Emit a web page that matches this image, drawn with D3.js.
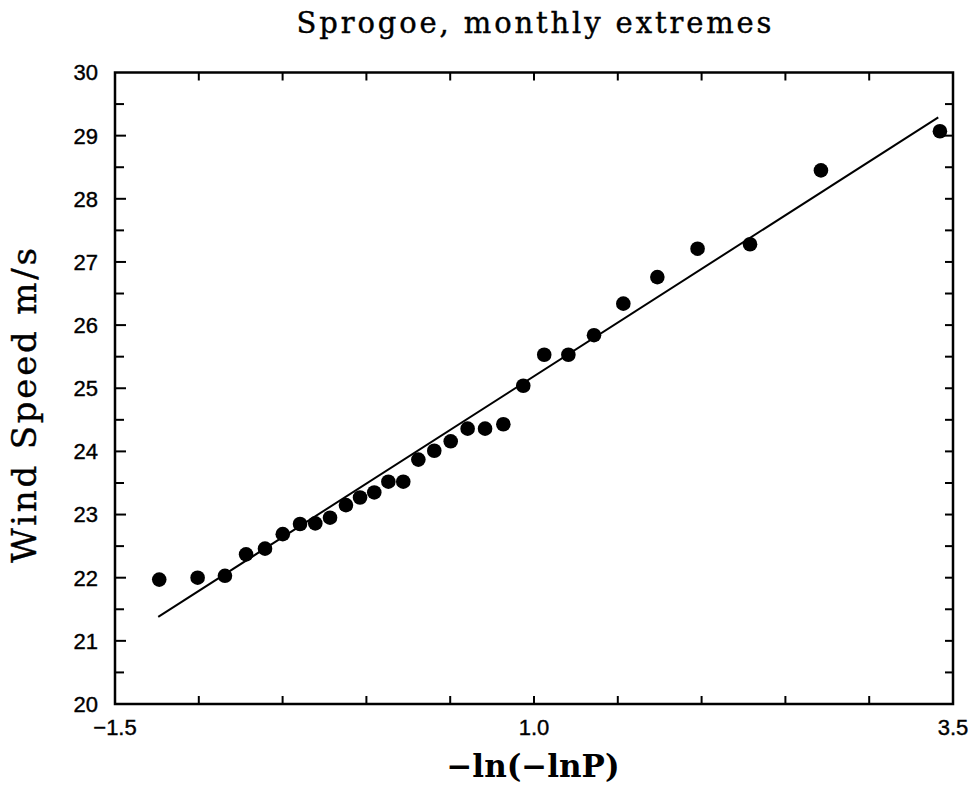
<html>
  <head>
    <meta charset="utf-8" />
    <script src="https://cdn.jsdelivr.net/npm/d3@7"></script>
    <style>
      body { margin: 0; background: #fff; }
    </style>
  </head>
  <body>
    <div id="container"></div>
    <script>
      // reduced variate -ln(-lnP) and observed monthly max wind speed
      const variate = [-1.236, -1.007, -0.844, -0.718, -0.605, -0.499, -0.396, -0.305, -0.217, -0.122,
        -0.038, 0.047, 0.131, 0.220, 0.310, 0.405, 0.503, 0.604, 0.708, 0.817,
        0.936, 1.061, 1.205, 1.358, 1.533, 1.736, 1.976, 2.289, 2.712, 3.422];
      const speed = [21.97, 22.00, 22.03, 22.37, 22.46, 22.69, 22.85, 22.86, 22.95, 23.15,
        23.27, 23.35, 23.52, 23.52, 23.87, 24.01, 24.16, 24.36, 24.36, 24.43,
        25.04, 25.53, 25.53, 25.84, 26.34, 26.76, 27.21, 27.28, 28.45, 29.07];
      // fitted Gumbel line end points
      const fitX = [-1.242, 3.412];
      const fitY = [21.38, 29.29];
      const xLabels = [-1.5, 1.0, 3.5];
      const yLabels = [20, 21, 22, 23, 24, 25, 26, 27, 28, 29, 30];

      const W = 975, H = 793;
      const mLeft = 115, mRight = 953, mTop = 72.5, mBottom = 704;

      const svg = d3.select("#container").append("svg")
        .attr("width", W).attr("height", H);

      const x = d3.scaleLinear().domain([-1.5, 3.5]).range([mLeft, mRight]);
      const y = d3.scaleLinear().domain([20, 30]).range([mBottom, mTop]);

      const halfSteps = d3.range(0, 21).map(i => i * 0.5);
      const xTicks = halfSteps.slice(0, 11).map(d => -1.5 + d);
      const yTicks = halfSteps.map(d => 20 + d);

      // ticks pointing inward
      const g = svg.append("g").attr("stroke", "#000").attr("stroke-width", 2);
      g.append("g").selectAll("line").data(xTicks.slice(1, -1)).join("line")
        .attr("x1", d => x(d)).attr("x2", d => x(d))
        .attr("y1", mBottom).attr("y2", mBottom - 8);
      g.append("g").selectAll("line").data(xTicks.slice(1, -1)).join("line")
        .attr("x1", d => x(d)).attr("x2", d => x(d))
        .attr("y1", mTop).attr("y2", mTop + 8);
      g.append("g").selectAll("line").data(yTicks.slice(1, -1)).join("line")
        .attr("x1", mLeft).attr("x2", d => mLeft + (d % 1 === 0 ? 11 : 9))
        .attr("y1", d => y(d)).attr("y2", d => y(d));
      g.append("g").selectAll("line").data(yTicks.slice(1, -1)).join("line")
        .attr("x1", mRight).attr("x2", mRight - 8)
        .attr("y1", d => y(d)).attr("y2", d => y(d));

      svg.append("rect")
        .attr("x", mLeft).attr("y", mTop)
        .attr("width", mRight - mLeft).attr("height", mBottom - mTop)
        .attr("fill", "none").attr("stroke", "#000").attr("stroke-width", 2.5);

      // tick labels
      const tickFont = "22px 'Liberation Sans', Arial, sans-serif";
      svg.append("g").selectAll("text").data(yLabels).join("text")
        .attr("x", 98).attr("y", d => y(d)).attr("dy", "0.36em")
        .attr("text-anchor", "end")
        .attr("stroke", "#000").attr("stroke-width", 0.4)
        .style("font", tickFont)
        .text(d => d);
      svg.append("g").selectAll("text").data(xLabels).join("text")
        .attr("x", d => x(d)).attr("y", 735)
        .attr("text-anchor", "middle")
        .attr("stroke", "#000").attr("stroke-width", 0.4)
        .style("font", tickFont)
        .text(d => d3.format(".1f")(d));

      // fitted line
      const line = d3.line().x(d => x(d[0])).y(d => y(d[1]));
      svg.append("path")
        .attr("d", line(d3.zip(fitX, fitY)))
        .attr("fill", "none").attr("stroke", "#000").attr("stroke-width", 2);

      // observations
      svg.append("g").selectAll("circle").data(d3.zip(variate, speed)).join("circle")
        .attr("cx", d => x(d[0])).attr("cy", d => y(d[1]))
        .attr("r", 7.3).attr("fill", "#000");

      // titles
      svg.append("text")
        .attr("x", 534).attr("y", 33).attr("text-anchor", "middle")
        .attr("textLength", 475).attr("lengthAdjust", "spacing")
        .attr("stroke", "#000").attr("stroke-width", 0.4)
        .style("font", "29px 'DejaVu Serif', serif")
        .text("Sprogoe, monthly extremes");
      svg.append("text")
        .attr("transform", "translate(36,405.5) rotate(-90)")
        .attr("text-anchor", "middle")
        .attr("textLength", 315).attr("lengthAdjust", "spacing")
        .attr("stroke", "#000").attr("stroke-width", 0.4)
        .style("font", "34px 'DejaVu Serif', serif")
        .text("Wind Speed m/s");
      svg.append("text")
        .attr("x", 533).attr("y", 777).attr("text-anchor", "middle")
        .style("font", "bold 31px 'DejaVu Serif', serif")
        .text("\u2212ln(\u2212lnP)");
    </script>
  </body>
</html>
